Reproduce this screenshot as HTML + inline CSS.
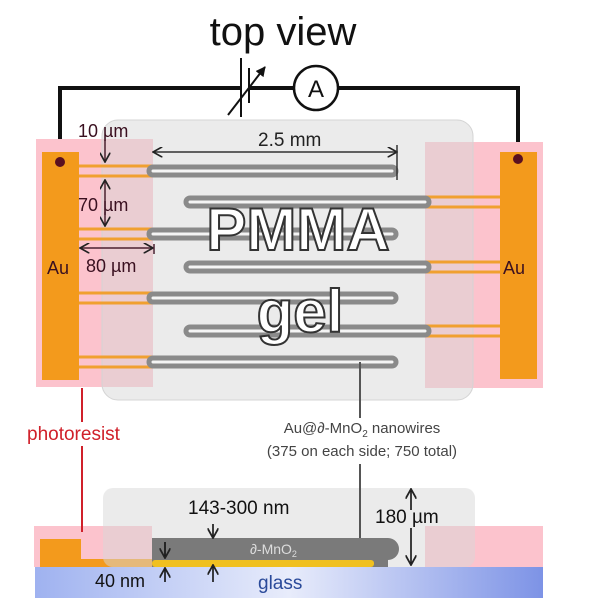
<!DOCTYPE html>
<html><head><meta charset="utf-8"><style>
body{margin:0;background:#fff;}
svg{display:block;font-family:"Liberation Sans",sans-serif;}
</style></head><body>
<svg width="601" height="600" viewBox="0 0 601 600" xmlns="http://www.w3.org/2000/svg">
<defs>
<linearGradient id="gl" x1="0" x2="1" y1="0" y2="0">
<stop offset="0" stop-color="#9fb2f0"/><stop offset="0.5" stop-color="#e8ecfb"/><stop offset="1" stop-color="#7d93e6"/>
</linearGradient>
<marker id="ah" viewBox="0 0 10 10" refX="9" refY="5" markerWidth="7" markerHeight="7" orient="auto"><path d="M0,0 L9,5 L0,10" fill="none" stroke="#222" stroke-width="1.6"/></marker>
<marker id="ahf" viewBox="0 0 10 10" refX="9" refY="5" markerWidth="5" markerHeight="5" orient="auto"><path d="M0,0 L10,5 L0,10z" fill="#111"/></marker>
</defs>
<text x="283" y="45" font-size="40" text-anchor="middle" fill="#111">top view</text>
<!-- circuit -->
<polyline points="60,162 60,88 241,88" fill="none" stroke="#111" stroke-width="4"/>
<line x1="249" y1="88" x2="294" y2="88" stroke="#111" stroke-width="4"/>
<polyline points="338,88 518,88 518,159" fill="none" stroke="#111" stroke-width="4"/>
<line x1="241" y1="58" x2="241" y2="117" stroke="#111" stroke-width="2"/>
<line x1="249" y1="68" x2="249" y2="103" stroke="#111" stroke-width="2"/>
<line x1="228" y1="115" x2="265" y2="67" stroke="#111" stroke-width="2" marker-end="url(#ahf)"/>
<circle cx="316" cy="88" r="22" fill="#fff" stroke="#111" stroke-width="2.5"/>
<text x="316" y="97" font-size="24" text-anchor="middle" fill="#111">A</text>
<!-- pinks -->
<rect x="36" y="139" width="117" height="248" fill="#fcc3cd"/>
<rect x="425" y="142" width="118" height="246" fill="#fcc3cd"/>
<!-- gel -->
<rect x="102" y="120" width="371" height="280" rx="16" fill="#d8d8d8" fill-opacity="0.5" stroke="#d4d4d4"/>
<rect x="42" y="152" width="37" height="228" fill="#f39a1c"/>
<rect x="500" y="152" width="37" height="227" fill="#f39a1c"/>
<circle cx="60" cy="162" r="5" fill="#5a1020"/>
<circle cx="518" cy="159" r="5" fill="#5a1020"/>
<g stroke="#f0a030" stroke-width="3">
<line x1="79" y1="166" x2="153" y2="166"/><line x1="79" y1="176" x2="153" y2="176"/>
<line x1="79" y1="229" x2="153" y2="229"/><line x1="79" y1="239" x2="153" y2="239"/>
<line x1="79" y1="293" x2="153" y2="293"/><line x1="79" y1="303" x2="153" y2="303"/>
<line x1="79" y1="357" x2="153" y2="357"/><line x1="79" y1="367" x2="153" y2="367"/>
<line x1="425" y1="197" x2="500" y2="197"/><line x1="425" y1="207" x2="500" y2="207"/>
<line x1="425" y1="262" x2="500" y2="262"/><line x1="425" y1="272" x2="500" y2="272"/>
<line x1="425" y1="326" x2="500" y2="326"/><line x1="425" y1="336" x2="500" y2="336"/>
</g>
<!-- fingers -->
<g fill="none" stroke-linecap="round">
<g stroke="#8a8a8a" stroke-width="13">
<path d="M153,171 H392 M153,234 H392 M153,298 H392 M153,362 H392"/>
<path d="M190,202 H425 M190,267 H425 M190,331 H425"/>
</g>
<g stroke="#f4f4f4" stroke-width="3">
<path d="M153,171 H392 M153,234 H392 M153,298 H392 M153,362 H392"/>
<path d="M190,202 H425 M190,267 H425 M190,331 H425"/>
</g>
</g>
<text x="298" y="250" font-size="60" text-anchor="middle" fill="#fff" stroke="#333" stroke-width="2" font-weight="bold">PMMA</text>
<text x="300" y="332" font-size="60" text-anchor="middle" fill="#fff" stroke="#333" stroke-width="2" font-weight="bold">gel</text>
<!-- dims -->
<g fill="#3a1020" font-size="18">
<text x="78" y="137">10 µm</text>
<text x="78" y="211">70 µm</text>
<text x="86" y="272">80 µm</text>
<text x="47" y="274">Au</text>
</g>
<text x="503" y="274" font-size="18" fill="#3a1020">Au</text>
<g stroke="#4a2030" stroke-width="1.5" fill="none">
<line x1="105" y1="140" x2="105" y2="162" marker-end="url(#ah)"/>
<line x1="105" y1="210" x2="105" y2="180" marker-end="url(#ah)"/>
<line x1="105" y1="212" x2="105" y2="226" marker-end="url(#ah)"/>
<line x1="100" y1="248" x2="80" y2="248" marker-end="url(#ah)"/>
<line x1="100" y1="248" x2="153" y2="248" marker-end="url(#ah)"/>
<line x1="154" y1="244" x2="154" y2="254"/>
</g>
<g stroke="#333" stroke-width="1.5" fill="none">
<line x1="275" y1="152" x2="153" y2="152" marker-end="url(#ah)"/>
<line x1="275" y1="152" x2="397" y2="152" marker-end="url(#ah)"/>
<line x1="397" y1="145" x2="397" y2="180"/>
</g>
<text x="258" y="146" font-size="19" fill="#222">2.5 mm</text>
<!-- labels -->
<line x1="82" y1="388" x2="82" y2="532" stroke="#d0202a" stroke-width="2"/>
<rect x="25" y="422" width="125" height="24" fill="#fff"/>
<text x="27" y="440" font-size="19" fill="#d0202a">photoresist</text>
<line x1="360" y1="362" x2="360" y2="540" stroke="#555" stroke-width="2"/>
<rect x="245" y="418" width="240" height="46" fill="#fff"/>
<text x="362" y="433" font-size="15" text-anchor="middle" fill="#444">Au@∂-MnO<tspan font-size="10" dy="4">2</tspan><tspan dy="-4"> nanowires</tspan></text>
<text x="362" y="456" font-size="15" text-anchor="middle" fill="#444">(375 on each side; 750 total)</text>
<!-- cross section -->
<rect x="35" y="567" width="508" height="31" fill="url(#gl)"/>
<rect x="34" y="526" width="118" height="41" fill="#fcc3cd"/>
<rect x="425" y="526" width="118" height="41" fill="#fcc3cd"/>
<rect x="40" y="539" width="41" height="28" fill="#f39a1c"/>
<rect x="81" y="559" width="72" height="8" fill="#f39a1c"/>
<rect x="103" y="488" width="372" height="79" rx="10" fill="#d8d8d8" fill-opacity="0.5"/>
<line x1="360" y1="464" x2="360" y2="545" stroke="#555" stroke-width="2"/>
<line x1="82" y1="500" x2="82" y2="532" stroke="#d0202a" stroke-width="2"/>
<path d="M152,538 H388 a11,11 0 0 1 0,22 V567 H152z" fill="#7a7a7a"/>
<rect x="152" y="560" width="222" height="7" rx="3" fill="#f0c020"/>
<text x="250" y="554" font-size="14" fill="#ddd">∂-MnO<tspan font-size="9" dy="3">2</tspan></text>
<g stroke="#111" stroke-width="1.6">
<line x1="165" y1="542" x2="165" y2="558" marker-end="url(#ah)"/>
<line x1="165" y1="582" x2="165" y2="568" marker-end="url(#ah)"/>
<line x1="213" y1="524" x2="213" y2="538" marker-end="url(#ah)"/>
<line x1="213" y1="582" x2="213" y2="565" marker-end="url(#ah)"/>
<line x1="411" y1="510" x2="411" y2="489" marker-end="url(#ah)"/>
<line x1="411" y1="528" x2="411" y2="565" marker-end="url(#ah)"/>
</g>
<text x="188" y="514" font-size="19" fill="#111">143-300 nm</text>
<text x="375" y="523" font-size="19" fill="#111">180 µm</text>
<text x="95" y="587" font-size="18" fill="#111">40 nm</text>
<text x="258" y="589" font-size="19" fill="#2a4a9a">glass</text>
</svg>
</body></html>
